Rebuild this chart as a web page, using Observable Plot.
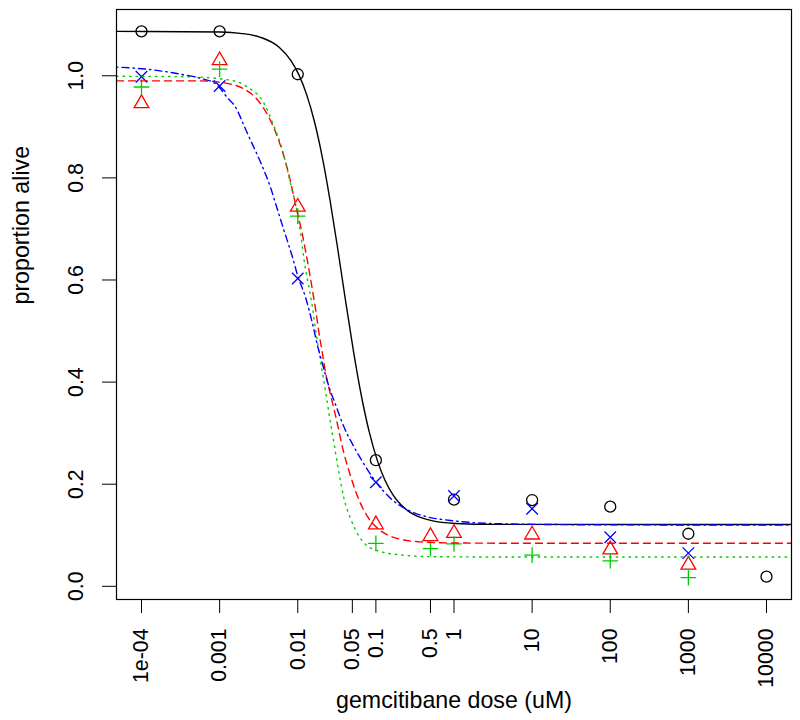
<!DOCTYPE html>
<html>
<head>
<meta charset="utf-8">
<script src="https://cdn.jsdelivr.net/npm/d3@7"></script>
<script src="https://cdn.jsdelivr.net/npm/@observablehq/plot@0.6"></script>
<style>
  html, body { margin: 0; padding: 0; background: #ffffff; }
  #chart { width: 800px; height: 720px; }
</style>
</head>
<body>
<div id="chart"></div>
<script>
// ---------- data ----------
const doses = [0.0001, 0.001, 0.01, 0.1, 0.5, 1, 10, 100, 1000, 10000];
const aliveBlack = [1.087, 1.087, 1.003, 0.247, null, 0.170, 0.169, 0.156, 0.103, 0.019];
const aliveRed   = [0.946, 1.030, 0.743, 0.121, 0.098, 0.104, 0.101, 0.072, 0.042, null];
const aliveGreen = [0.978, 1.013, 0.725, 0.084, 0.074, 0.083, 0.061, 0.050, 0.017, null];
const aliveBlue  = [0.998, 0.980, 0.603, 0.204, null, 0.177, 0.152, 0.096, 0.065, null];

// fitted curves (log10 of dose, proportion alive)
const blackCurveLogDose = [-4.32, -2.985, -2.735, -2.485, -2.235, -2.085, -1.985, -1.885, -1.785, -1.685, -1.585, -1.485, -1.385, -1.285, -1.185, -1.085, -0.985, -0.885, -0.785, -0.685, -0.585, -0.485, -0.285, 0.015, 0.515, 4.32];
const blackCurveAlive   = [1.087, 1.0856, 1.0831, 1.0758, 1.0555, 1.0293, 1.0017, 0.9626, 0.9094, 0.8399, 0.7547, 0.6578, 0.5563, 0.4588, 0.3728, 0.3024, 0.2482, 0.2083, 0.1801, 0.1606, 0.1474, 0.1385, 0.1286, 0.1232, 0.1213, 0.121];

const blueCurveLogDose = [-4.32, -3.881, -3.497, -3.241, -3.049, -2.900, -2.794, -2.687, -2.602, -2.474, -2.346, -2.260, -2.176, -2.068, -2.004, -1.898, -1.812, -1.748, -1.684, -1.600, -1.514, -1.408, -1.280, -1.130, -1.002, -0.810, -0.597, -0.341, -0.043, 0.597, 1.876, 4.32];
const blueCurveAlive   = [1.017, 1.012, 1.003, 0.995, 0.984, 0.957, 0.938, 0.902, 0.873, 0.830, 0.780, 0.738, 0.697, 0.645, 0.610, 0.565, 0.515, 0.472, 0.436, 0.391, 0.355, 0.312, 0.273, 0.234, 0.205, 0.172, 0.150, 0.136, 0.129, 0.1225, 0.1205, 0.120];

const redCurveLogDose = [-4.32, -3.241, -2.900, -2.687, -2.516, -2.367, -2.240, -2.154, -2.090, -2.004, -1.940, -1.898, -1.856, -1.812, -1.770, -1.728, -1.684, -1.642, -1.578, -1.514, -1.408, -1.322, -1.216, -1.108, -0.981, -0.853, -0.683, -0.427, -0.043, 0.597, 4.32];
const redCurveAlive   = [0.990, 0.990, 0.985, 0.974, 0.953, 0.918, 0.872, 0.830, 0.791, 0.731, 0.689, 0.655, 0.620, 0.580, 0.541, 0.496, 0.456, 0.417, 0.374, 0.333, 0.260, 0.215, 0.169, 0.137, 0.114, 0.101, 0.092, 0.087, 0.085, 0.0845, 0.0845];

const greenCurveLogDose = [-4.32, -3.369, -2.815, -2.644, -2.431, -2.314, -2.196, -2.090, -2.004, -1.962, -1.920, -1.856, -1.812, -1.770, -1.728, -1.684, -1.642, -1.600, -1.536, -1.472, -1.408, -1.322, -1.216, -1.108, -0.938, -0.683, -0.256, 0.597, 4.32];
const greenCurveAlive   = [0.999, 0.998, 0.990, 0.978, 0.946, 0.905, 0.855, 0.787, 0.730, 0.690, 0.640, 0.585, 0.547, 0.501, 0.460, 0.418, 0.380, 0.338, 0.280, 0.222, 0.172, 0.132, 0.098, 0.079, 0.068, 0.0616, 0.058, 0.0575, 0.0575];

const xTickDoses  = [0.0001, 0.001, 0.01, 0.05, 0.1, 0.5, 1, 10, 100, 1000, 10000];
const xTickLabels = ["1e-04", "0.001", "0.01", "0.05", "0.1", "0.5", "1", "10", "100", "1000", "10000"];
const yTicks      = [0, 0.2, 0.4, 0.6, 0.8, 1.0];
const yTickLabels = ["0.0", "0.2", "0.4", "0.6", "0.8", "1.0"];
const xTitle = "gemcitibane dose (uM)";
const yTitle = "proportion alive";

// ---------- build tables ----------
const pointRows = (ys) => doses.map((d, i) => ({dose: d, v: ys[i]})).filter(r => r.v != null);
const curveRows = (ts, vs) => ts.map((t, i) => ({dose: Math.pow(10, t), v: vs[i]}));
const xTickRows = xTickDoses.map((d, i) => ({dose: d, label: xTickLabels[i]}));

const series = [
  {pts: aliveBlack, ct: blackCurveLogDose, cv: blackCurveAlive, color: "#000000", symbol: d3.symbolCircle,    r: 5.5, dash: null},
  {pts: aliveRed,   ct: redCurveLogDose,   cv: redCurveAlive,   color: "#FF0000", symbol: d3.symbolTriangle2, r: 7.0, dash: "7,5"},
  {pts: aliveGreen, ct: greenCurveLogDose, cv: greenCurveAlive, color: "#00CD00", symbol: d3.symbolPlus,      r: 5.1, dash: "1.5,5"},
  {pts: aliveBlue,  ct: blueCurveLogDose,  cv: blueCurveAlive,  color: "#0000FF", symbol: d3.symbolTimes,     r: 5.3, dash: "1.5,4,7,4"}
];

const font = "'Liberation Sans', Arial, Helvetica, sans-serif";

const marks = [];
for (const s of series) {
  marks.push(Plot.dot(pointRows(s.pts), {x: "dose", y: "v", symbol: s.symbol, r: s.r, stroke: s.color, strokeWidth: 1.3, fill: "none"}));
}
for (const s of series) {
  marks.push(Plot.line(curveRows(s.ct, s.cv), {x: "dose", y: "v", stroke: s.color, strokeWidth: 1.4, curve: "monotone-x", strokeDasharray: s.dash ?? undefined}));
}
marks.push(Plot.frame({stroke: "#000", strokeWidth: 1.2}));
// x axis: tick marks from the axis, labels as rotated text on the x scale
marks.push(Plot.axisX({ticks: xTickDoses, tickFormat: () => "", tickSize: 14, label: null}));
marks.push(Plot.text(xTickRows, {x: "dose", text: "label", frameAnchor: "bottom", dy: 29, rotate: -90, textAnchor: "end", lineAnchor: "middle", fontSize: 21.3}));
marks.push(Plot.axisY({ticks: yTicks, tickFormat: d => yTickLabels[yTicks.findIndex(v => Math.abs(v - d) < 1e-9)], tickRotate: -90, tickSize: 14, tickPadding: 20, fontSize: 21.3, label: null}));
marks.push(Plot.text([xTitle], {text: d => d, frameAnchor: "bottom", dy: 108, lineAnchor: "bottom", fontSize: 23.2}));
marks.push(Plot.text([yTitle], {text: d => d, frameAnchor: "left", dx: -104, rotate: -90, lineAnchor: "top", fontSize: 23.2}));

const chart = Plot.plot({
  width: 800,
  height: 720,
  marginLeft: 116,
  marginRight: 9,
  marginTop: 9,
  marginBottom: 121,
  style: {fontFamily: font, fontSize: "21.3px", background: "#ffffff", color: "#000000", overflow: "visible"},
  x: {type: "log", domain: [Math.pow(10, -4.32), Math.pow(10, 4.32)]},
  y: {type: "linear", domain: [-0.0258, 1.1298]},
  marks
});
document.getElementById("chart").appendChild(chart);
</script>
</body>
</html>
